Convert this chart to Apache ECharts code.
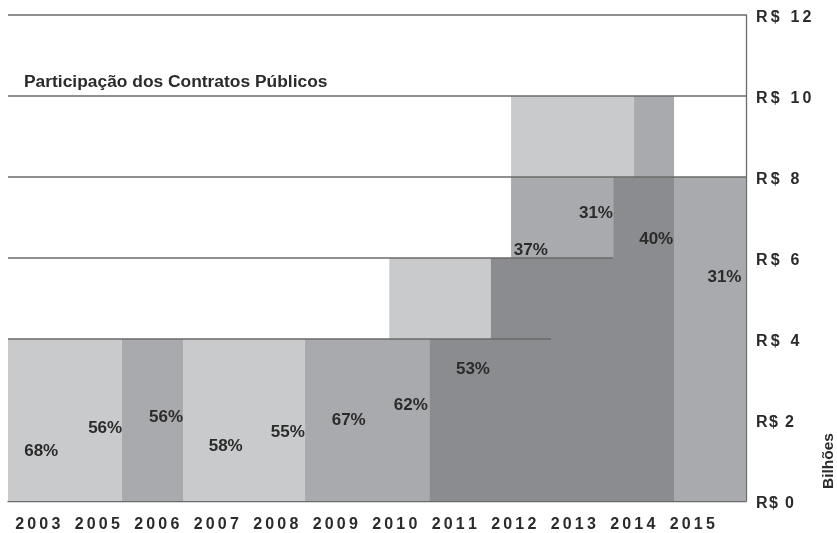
<!DOCTYPE html>
<html>
<head>
<meta charset="utf-8">
<script src="https://cdn.jsdelivr.net/npm/echarts@6/dist/echarts.min.js"></script>
<style>
  html, body { margin: 0; padding: 0; background: #fff; }
  #chart { width: 837px; height: 533px; }
</style>
</head>
<body>
<div id="chart"></div>
<script>
// anos do eixo x
var years = ['2003', '2005', '2006', '2007', '2008', '2009', '2010', '2011', '2012', '2013', '2014', '2015'];
// rótulos do eixo y (R$ bilhões)
var yTicks = ['R$ 0', 'R$ 2', 'R$ 4', 'R$ 6', 'R$ 8', 'R$ 10', 'R$ 12'];

// blocos [x0, x1, y0, y1] em unidades dos eixos
var lightBlocks = [[0, 1.85, 0, 4], [2.85, 4.83, 0, 4], [6.2, 7.85, 4, 6], [8.18, 10.18, 8, 10]];
var midBlocks = [[1.85, 2.85, 0, 4], [4.83, 6.85, 0, 4], [8.18, 9.84, 6, 8], [10.83, 12, 0, 8], [10.18, 10.83, 8, 10]];
var darkBlocks = [[6.85, 10.83, 0, 4], [7.85, 10.83, 4, 6], [9.84, 10.83, 6, 8]];

// linhas horizontais [y, x0, x1]
var rules = [[12, 0, 12], [10, 0, 12], [8, 0, 12], [6, 0, 9.84], [4, 0, 8.83]];

// participação dos contratos públicos
var pctText = ['68%', '56%', '56%', '58%', '55%', '67%', '62%', '53%', '37%', '31%', '40%', '31%'];
var pctAt = [[0.54, 1.23], [1.58, 1.8], [2.57, 2.07], [3.54, 1.36], [4.55, 1.7], [5.54, 2.0],
             [6.55, 2.37], [7.56, 3.26], [8.5, 6.2], [9.56, 7.11], [10.54, 6.47], [11.65, 5.53]];

var FONT = '"Liberation Sans", Arial, sans-serif';
var INK = '#2b2b2b';
var LINE = '#6a6a6a';

// espaçamento entre letras
function track(s, gap) {
  return s.split('').join(gap);
}

function blockSeries(name, data, color) {
  return {
    name: name,
    type: 'custom',
    xAxisIndex: 0, yAxisIndex: 0,
    z: 1,
    silent: true,
    encode: { x: [0, 1], y: [2, 3] },
    data: data,
    renderItem: function (params, api) {
      var a = api.coord([api.value(0), api.value(3)]);
      var b = api.coord([api.value(1), api.value(2)]);
      return {
        type: 'rect',
        shape: { x: a[0], y: a[1], width: b[0] - a[0], height: b[1] - a[1] },
        style: { fill: color }
      };
    }
  };
}

var myChart = echarts.init(document.getElementById('chart'));
var option = {
  animation: false,
  backgroundColor: '#fff',
  title: {
    text: 'Participação dos Contratos Públicos',
    left: 19, top: 69,
    textStyle: { fontFamily: FONT, fontSize: 17.4, fontWeight: 'bold', color: INK }
  },
  graphic: [{
    type: 'text',
    x: 829, y: 461,
    rotation: Math.PI / 2,
    style: {
      text: 'Bilhões', fill: INK,
      font: 'bold 15.5px ' + FONT,
      align: 'center', verticalAlign: 'middle'
    }
  }],
  grid: [
    { left: 8, right: 91, top: 15, bottom: 32 },
    { left: 8, width: 714, top: 15, bottom: 32 }
  ],
  xAxis: [
    {
      type: 'value', gridIndex: 0, min: 0, max: 12,
      axisLine: { show: true, onZero: false, lineStyle: { color: LINE, width: 1.3 } },
      axisTick: { show: false }, axisLabel: { show: false }, splitLine: { show: false }
    },
    {
      type: 'category', gridIndex: 1, data: years,
      axisLine: { show: false }, axisTick: { show: false }, splitLine: { show: false },
      axisLabel: {
        margin: 19, color: INK, fontFamily: FONT, fontSize: 16, fontWeight: 'bold',
        formatter: function (v) { return track(v, '\u2009'); }
      }
    }
  ],
  yAxis: [
    {
      type: 'value', gridIndex: 0, position: 'right', min: 0, max: 12, interval: 2,
      axisLine: { show: true, onZero: false, lineStyle: { color: LINE, width: 1.3 } },
      axisTick: { show: false }, splitLine: { show: false },
      axisLabel: {
        margin: 10, color: INK, fontFamily: FONT, fontSize: 16, fontWeight: 'bold',
        verticalAlign: 'top', lineHeight: 6,
        formatter: function (v) {
          var s = yTicks[v / 2];
          return v < 4 ? track(s, '\u200A') : track(s, '\u2009');
        }
      }
    },
    { type: 'value', gridIndex: 1, show: false, min: 0, max: 12 }
  ],
  series: [
    blockSeries('claro', lightBlocks, '#c9cacc'),
    blockSeries('medio', midBlocks, '#a9aaad'),
    blockSeries('escuro', darkBlocks, '#8b8c8f'),
    {
      name: 'linhas',
      type: 'custom',
      xAxisIndex: 0, yAxisIndex: 0,
      z: 3,
      silent: true,
      encode: { x: [1, 2], y: 0 },
      data: rules,
      renderItem: function (params, api) {
        var a = api.coord([api.value(1), api.value(0)]);
        var b = api.coord([api.value(2), api.value(0)]);
        return {
          type: 'line',
          shape: { x1: a[0], y1: a[1], x2: b[0], y2: b[1] },
          style: { stroke: LINE, lineWidth: 1.3 }
        };
      }
    },
    {
      name: 'percentual',
      type: 'custom',
      xAxisIndex: 0, yAxisIndex: 0,
      z: 5,
      silent: true,
      encode: { x: 0, y: 1 },
      data: pctAt,
      renderItem: function (params, api) {
        var p = api.coord([api.value(0), api.value(1)]);
        return {
          type: 'text',
          x: p[0], y: p[1],
          style: {
            text: pctText[params.dataIndex], fill: INK,
            font: 'bold 17px ' + FONT,
            align: 'center', verticalAlign: 'middle'
          }
        };
      }
    }
  ]
};
myChart.setOption(option);
</script>
</body>
</html>
